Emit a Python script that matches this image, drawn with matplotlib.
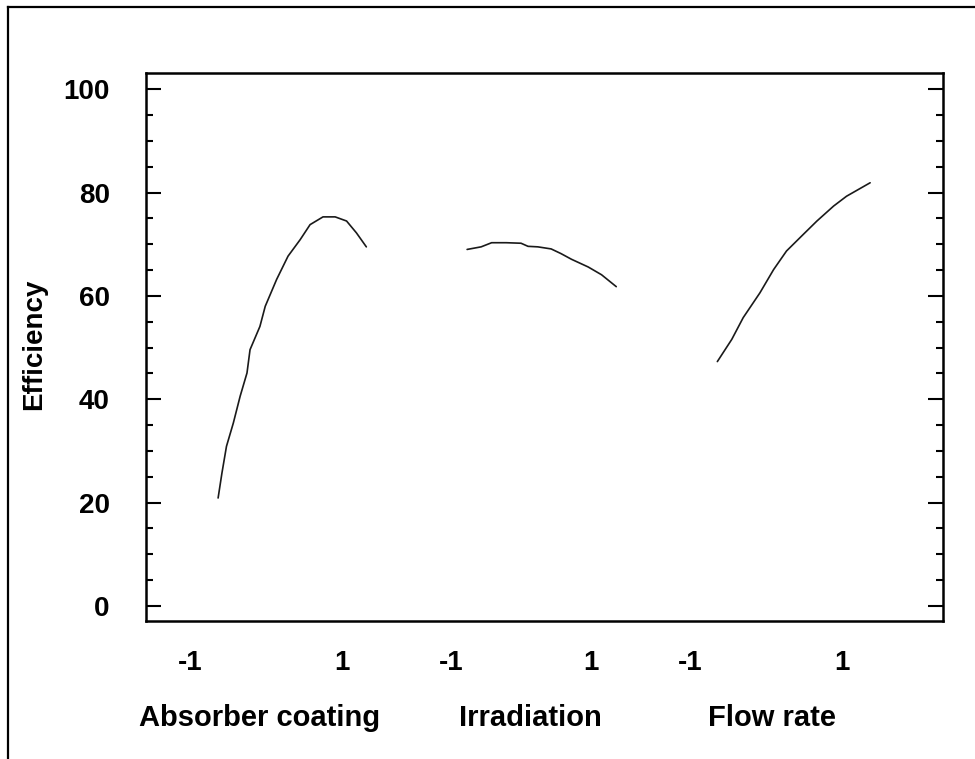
import matplotlib.pyplot as plt
from matplotlib.lines import Line2D
from matplotlib.ticker import MultipleLocator
import matplotlib.transforms as mtransforms

# coded factor level vs efficiency for each factor
absorber_x = [-0.63, -0.58, -0.52, -0.43, -0.34, -0.25, -0.21, -0.08, -0.01,
              0.14, 0.29, 0.45, 0.58, 0.75, 0.91, 1.06, 1.19, 1.32]
absorber_y = [20.9, 25.7, 30.9, 35.4, 40.6, 45.1, 49.6, 54.1, 58.0,
              63.2, 67.7, 70.9, 73.8, 75.3, 75.3, 74.5, 72.2, 69.5]

irradiation_x = [-0.77, -0.57, -0.42, -0.21, 0.0, 0.10, 0.24, 0.43, 0.57,
                 0.72, 0.96, 1.15, 1.36]
irradiation_y = [69.0, 69.5, 70.3, 70.3, 70.2, 69.6, 69.5, 69.1, 68.2,
                 67.1, 65.6, 64.1, 61.8]

flow_x = [-0.64, -0.45, -0.30, -0.08, 0.10, 0.27, 0.49, 0.67, 0.89, 1.06, 1.37]
flow_y = [47.3, 51.6, 55.8, 60.6, 65.1, 68.7, 71.9, 74.5, 77.4, 79.3, 81.9]

factor_names = ["Absorber coating", "Irradiation", "Flow rate"]
level_labels = ["-1", "1"]

# where each factor block sits on the shared x axis (center, half width)
blocks = [(1.622, 1.027), (5.068, 0.946), (8.378, 1.027)]
# x position of each factor name under its block
name_pos = [1.541, 5.189, 8.459]

plt.rcParams['font.family'] = ['Liberation Sans', 'DejaVu Sans']
plt.rcParams['font.weight'] = 'bold'
plt.rcParams['axes.labelweight'] = 'bold'

fig = plt.figure(figsize=(9.75, 7.59), dpi=100)
ax = fig.add_axes([0.1497, 0.1822, 0.8172, 0.7220])

series = [(absorber_x, absorber_y), (irradiation_x, irradiation_y), (flow_x, flow_y)]
for (xs, ys), (c, h) in zip(series, blocks):
    ax.plot([c + v * h for v in xs], ys, color='#1a1a1a', lw=1.2,
            solid_capstyle='round')

ax.set_xlim(0, 10.766)
ax.set_ylim(-2.85, 103.2)

ax.yaxis.set_major_locator(MultipleLocator(20))
ax.yaxis.set_minor_locator(MultipleLocator(5))
ax.tick_params(axis='y', which='both', direction='in', left=True, right=True,
               width=1.5, pad=26, labelsize=20)
ax.tick_params(axis='y', which='major', length=11)
ax.tick_params(axis='y', which='minor', length=5)

tick_pos = []
tick_lab = []
for c, h in blocks:
    tick_pos += [c - h, c + h]
    tick_lab += level_labels
ax.set_xticks(tick_pos)
ax.set_xticklabels(tick_lab)
ax.tick_params(axis='x', length=0, pad=21, labelsize=20)

for sp in ax.spines.values():
    sp.set_linewidth(1.8)

ax.set_ylabel("Efficiency", fontsize=20)
ax.yaxis.set_label_coords(-0.124, 0.505)

trans = mtransforms.blended_transform_factory(ax.transData, ax.transAxes)
for name, x in zip(factor_names, name_pos):
    ax.text(x, -0.178, name, transform=trans, ha='center', va='center',
            fontsize=21)

# frame around the figure (left and top edges)
fig.add_artist(Line2D([8 / 975, 8 / 975], [0, 1 - 7 / 759], color='black',
                      lw=1.6, transform=fig.transFigure))
fig.add_artist(Line2D([8 / 975, 1], [1 - 7 / 759, 1 - 7 / 759], color='black',
                      lw=1.6, transform=fig.transFigure))

fig.savefig('out.png', dpi=100)
